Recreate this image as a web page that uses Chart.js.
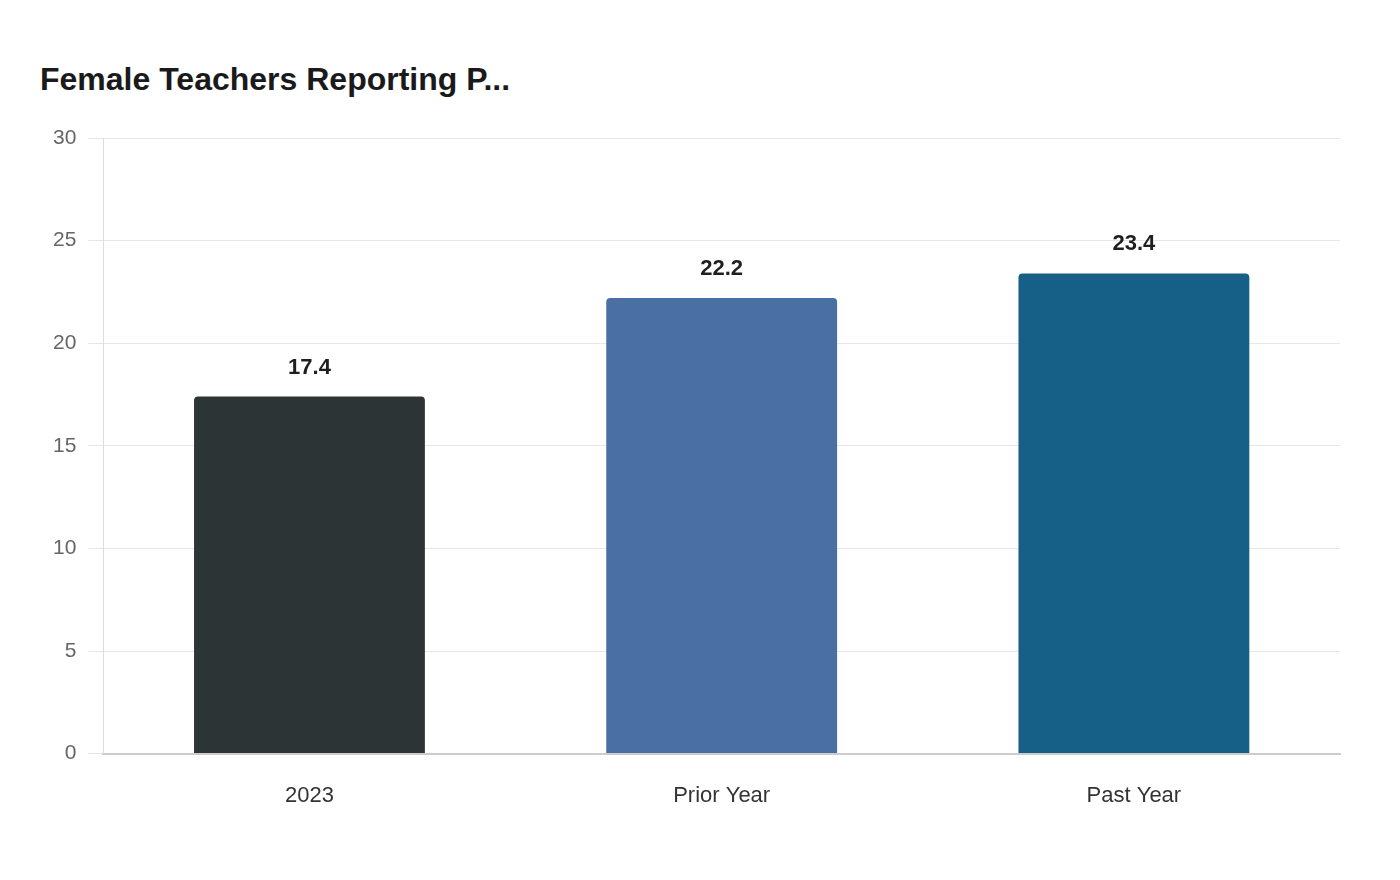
<!DOCTYPE html>
<html>
<head>
<meta charset="utf-8">
<script src="https://cdn.jsdelivr.net/npm/chart.js@4.4.1/dist/chart.umd.min.js"></script>
<style>
  html, body { margin: 0; padding: 0; background: #ffffff; }
  #wrap { position: relative; width: 1400px; height: 880px; }
  #title { position: absolute; left: 40px; top: 59px; margin: 0;
    font-family: "Liberation Sans", Arial, sans-serif; font-weight: bold; font-size: 32px; color: #1a1a1a; line-height: 40px; }
  canvas { position: absolute; left: 0; top: 0; }
</style>
</head>
<body>
<div id="wrap">
  <h1 id="title">Female Teachers Reporting P...</h1>
  <canvas id="c" width="1400" height="880"></canvas>
</div>
<script>
const categories = ["2023", "Prior Year", "Past Year"];
const values = [17.4, 22.2, 23.4];
const barColors = ["#2d3436", "#4a6fa5", "#166088"];
const yTicks = [0, 5, 10, 15, 20, 25, 30];

const valueLabels = {
  id: 'valueLabels',
  afterDatasetsDraw(chart) {
    const ctx = chart.ctx;
    const meta = chart.getDatasetMeta(0);
    ctx.save();
    ctx.font = 'bold 22px "Liberation Sans", Arial, sans-serif';
    ctx.fillStyle = '#1f1f1f';
    ctx.textAlign = 'center';
    ctx.textBaseline = 'middle';
    meta.data.forEach((bar, i) => {
      ctx.fillText(String(values[i]), bar.x, bar.y - 29);
    });
    ctx.restore();
  }
};

new Chart(document.getElementById('c'), {
  type: 'bar',
  data: {
    labels: categories,
    datasets: [{
      data: values,
      backgroundColor: barColors,
      borderRadius: { topLeft: 4, topRight: 4 },
      borderSkipped: 'bottom',
      barPercentage: 0.7,
      categoryPercentage: 0.8
    }]
  },
  options: {
    responsive: false,
    animation: false,
    devicePixelRatio: 1,
    layout: { padding: { top: 138, left: 41, right: 60, bottom: 42 } },
    plugins: { legend: { display: false }, tooltip: { enabled: false }, title: { display: false } },
    scales: {
      x: {
        grid: { display: false, drawTicks: false },
        border: { display: true, color: '#cccccc', width: 2 },
        ticks: { color: '#333333', padding: 29, font: { family: '"Liberation Sans", Arial, sans-serif', size: 22 } }
      },
      y: {
        min: 0, max: 30,
        afterBuildTicks(scale) { scale.ticks = yTicks.map(v => ({ value: v })); },
        grid: { color: '#e6e6e6', tickLength: 15, lineWidth: 1 },
        border: { display: true, color: '#dddddd' },
        ticks: { color: '#666666', padding: 12, font: { family: '"Liberation Sans", Arial, sans-serif', size: 21 } }
      }
    }
  },
  plugins: [valueLabels]
});
</script>
</body>
</html>
